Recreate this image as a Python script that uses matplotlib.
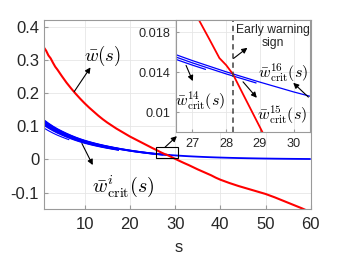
import matplotlib
matplotlib.use("Agg")
import matplotlib.pyplot as plt
import numpy as np
from matplotlib.patches import Rectangle

plt.rcParams['font.family'] = ['Liberation Sans', 'DejaVu Sans']
plt.rcParams['mathtext.fontset'] = 'cm'

# ---------------- data ----------------
red_s = [1, 1.5, 2, 2.5, 3, 3.5, 4, 5, 6, 7, 8, 9, 10, 11, 12, 13, 14,
         15, 16, 17, 18, 19, 20, 21, 22, 23, 24, 25, 26, 26.5, 27, 27.5, 27.8, 28,
         28.2, 28.5, 29, 29.5, 30, 30.5, 31, 32, 33, 34, 35, 36, 37, 38, 39, 40,
         42, 44, 46, 48, 50, 52, 54, 56, 58, 59]
red_w = [0.337, 0.327, 0.313, 0.304, 0.291, 0.279, 0.270, 0.250, 0.231, 0.214,
         0.198, 0.183, 0.169, 0.156, 0.144, 0.132, 0.121, 0.111, 0.102,
         0.093, 0.085, 0.077, 0.069, 0.062, 0.055, 0.048, 0.041, 0.034, 0.0275, 0.0238,
         0.0204, 0.0173, 0.0154, 0.0147, 0.0138, 0.0118, 0.0085, 0.0052, 0.0019,
         -0.0014, -0.0047, -0.011, -0.017, -0.0235, -0.030, -0.036, -0.042, -0.048,
         -0.055, -0.061, -0.071, -0.080, -0.088, -0.096, -0.104, -0.114, -0.125,
         -0.136, -0.147, -0.153]

crit_s = [1, 2, 3, 4, 5, 6, 6.6, 7, 8, 9, 10, 11, 12, 13, 14, 15, 16, 17, 17.6, 18,
          19, 20, 21, 22, 23, 24, 25, 26, 27, 27.4, 28, 28.9, 29, 30, 31, 32, 33, 34,
          35, 36, 37, 38, 39, 40, 42, 44, 46, 48, 50, 52, 54, 56, 58, 60]
crit_base = [0.118, 0.108, 0.099, 0.091, 0.084, 0.0775, 0.0739, 0.0715, 0.066, 0.061,
             0.0565, 0.0525, 0.0488, 0.0454, 0.0422, 0.0393, 0.0365, 0.0339, 0.0324,
             0.0314, 0.0291, 0.0269, 0.0248, 0.0229, 0.0211, 0.0194, 0.0178, 0.01636,
             0.01515, 0.0147, 0.01403, 0.0131, 0.0130, 0.01202, 0.01113, 0.0103,
             0.00954, 0.00883, 0.00818, 0.00757, 0.00701, 0.00649, 0.00601, 0.00557,
             0.00477, 0.00409, 0.00351, 0.00301, 0.00258, 0.00221, 0.0019, 0.00163,
             0.0014, 0.0012]
# each critical curve i: relative level and last s value
crit_ratio = [0.80, 0.88, 0.90, 0.92, 0.94, 0.955, 0.970, 0.985, 1.0]
crit_end = [6.6, 17.6, 17.6, 17.6, 17.6, 17.6, 27.4, 28.9, 60]

warn_s = 28.2

main_xticks = [10, 20, 30, 40, 50, 60]
main_yticks = [-0.1, 0, 0.1, 0.2, 0.3, 0.4]
main_ylabels = ['-0.1', '0', '0.1', '0.2', '0.3', '0.4']
in_xticks = [27, 28, 29, 30]
in_yticks = [0.01, 0.014, 0.018]
in_ylabels = ['0.01', '0.014', '0.018']

# ---------------- drawing ----------------
BLUE = '#0000ff'
RED = '#ff0000'
SPINE = '#9a9a9a'
TXT = '#262626'

fig = plt.figure(figsize=(3.43, 2.58), dpi=100)
ax = fig.add_axes([0.128, 0.189, 0.778, 0.734])

cs = np.array(crit_s)
cb = np.array(crit_base)


def draw_curves(a, lw_b, lw_thin, lw_r):
    for k, (r, e) in enumerate(zip(crit_ratio, crit_end)):
        m = cs <= e + 1e-9
        lw = lw_thin if k == 0 else lw_b
        a.plot(cs[m], cb[m] * r, color=BLUE, lw=lw, solid_capstyle='butt')
    a.plot(red_s, red_w, color=RED, lw=lw_r)


draw_curves(ax, 1.3, 0.8, 1.5)
ax.set_xlim(1, 60)
ax.set_ylim(-0.15, 0.42)
ax.set_xticks(main_xticks)
ax.set_yticks(main_yticks)
ax.set_yticklabels(main_ylabels)
ax.grid(True, color='#e6e6e6', lw=0.6)
ax.set_axisbelow(True)
for sp in ax.spines.values():
    sp.set_color(SPINE)
    sp.set_linewidth(0.8)
ax.tick_params(axis='both', direction='in', length=3, color=SPINE,
               labelcolor=TXT, labelsize=12)
ax.tick_params(axis='x', pad=5.5)
ax.tick_params(axis='y', pad=3.4)
fig.text(0.52, 1 - 248 / 258, 's', ha='center', va='center', fontsize=12, color=TXT)

# zoom box and arrows in main axes
ax.add_patch(Rectangle((25.7, 0.005), 4.9, 0.031, fill=False, ec='k', lw=0.8, zorder=5))
arr = dict(arrowstyle='-|>', color='k', lw=0.8, mutation_scale=8, shrinkA=0, shrinkB=0)
ax.annotate('', xy=(30.4, 0.070), xytext=(27.8, 0.037), arrowprops=arr)
ax.annotate('', xy=(11.3, 0.277), xytext=(7.7, 0.204), arrowprops=arr)
ax.annotate('', xy=(11.8, -0.017), xytext=(9.4, 0.048), arrowprops=arr)
ax.text(14.0, 0.310, r'$\bar{w}(s)$', fontsize=13.5, ha='center', va='center')
ax.text(18.5, -0.080, r'$\bar{w}^{i}_{\mathrm{crit}}(s)$', fontsize=14.5,
        ha='center', va='center')

# inset
axin = fig.add_axes([0.512, 0.488, 0.393, 0.434])
axin.set_facecolor('white')
draw_curves(axin, 0.9, 0.9, 1.3)
axin.axvline(warn_s, color='#404040', lw=1.1, ls=(0, (3.5, 2.5)))
axin.set_xlim(26.5, 30.5)
axin.set_ylim(0.008, 0.0192)
axin.set_xticks(in_xticks)
axin.set_yticks(in_yticks)
axin.set_yticklabels(in_ylabels)
axin.grid(True, color='#e6e6e6', lw=0.6)
axin.set_axisbelow(True)
for sp in axin.spines.values():
    sp.set_color(SPINE)
    sp.set_linewidth(0.8)
axin.tick_params(axis='both', direction='in', length=2.5, color=SPINE,
                 labelcolor=TXT, labelsize=9.2)
axin.tick_params(axis='x', pad=4)
axin.tick_params(axis='y', pad=3.6)

axin.text(29.38, 0.0176, 'Early warning\nsign', fontsize=8.7, ha='center',
          va='center', color=TXT, linespacing=1.1)
axin.annotate('', xy=(28.63, 0.01643), xytext=(28.22, 0.01537), arrowprops=arr)
axin.text(29.70, 0.01393, r'$\bar{w}^{16}_{\mathrm{crit}}(s)$', fontsize=11.5,
          ha='center', va='center')
axin.annotate('', xy=(29.99, 0.01293), xytext=(30.44, 0.0115), arrowprops=arr)
axin.text(27.24, 0.0111, r'$\bar{w}^{14}_{\mathrm{crit}}(s)$', fontsize=11.5,
          ha='center', va='center')
axin.annotate('', xy=(27.01, 0.0131), xytext=(26.81, 0.01467), arrowprops=arr)
axin.text(29.66, 0.00977, r'$\bar{w}^{15}_{\mathrm{crit}}(s)$', fontsize=11.5,
          ha='center', va='center')
axin.annotate('', xy=(28.91, 0.01143), xytext=(28.5, 0.01303), arrowprops=arr)

fig.savefig('out.png', dpi=100)
